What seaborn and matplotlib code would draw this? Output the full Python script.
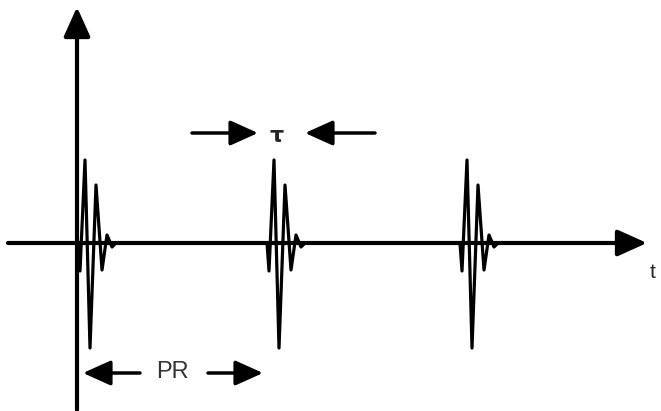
import numpy as np
import pandas as pd
import matplotlib
matplotlib.use("Agg")
import matplotlib.pyplot as plt
import seaborn as sns

# pulse shape (offset from pulse start, amplitude)
pulse_offset = [0, 2, 7, 12, 18, 24, 29, 34, 38]
pulse_amp = [0, -28, 83, -105, 58, -27, 8, -4, 0]
# start of each pulse along t
pulse_start = [1, 190, 383]
t_label = "t"
tau_label = "τ"
pr_label = "PR"

# build one long trace from the three pulses
rows = []
for k, s in enumerate(pulse_start):
    for o, a in zip(pulse_offset, pulse_amp):
        rows.append({"t": s + o, "amp": a, "pulse": k})
df = pd.DataFrame(rows)

sns.set_style("white")
fig = plt.figure(figsize=(6.61, 4.11), dpi=100)
ax = fig.add_axes([0, 0, 1, 1])
ax.set_xlim(-77, 584)
ax.set_ylim(-168, 243)
ax.axis("off")

sns.lineplot(data=df, x="t", y="amp", units="pulse", estimator=None,
             color="black", lw=2.3, ax=ax, legend=False, sort=False)

head = "-|>,head_length=1.0,head_width=0.45"
# axes
ax.annotate("", xy=(570, 0), xytext=(-69, 0),
            arrowprops=dict(arrowstyle=head, lw=3, color="black", mutation_scale=18,
                            shrinkA=0, shrinkB=0))
ax.annotate("", xy=(0, 236), xytext=(0, -167),
            arrowprops=dict(arrowstyle=head, lw=3, color="black", mutation_scale=18,
                            shrinkA=0, shrinkB=0))
ax.text(576, -29, t_label, fontsize=15, ha="center", va="center", family="Liberation Sans")

# tau marker
ax.annotate("", xy=(181, 110), xytext=(115, 110),
            arrowprops=dict(arrowstyle=head, lw=2.5, color="black", mutation_scale=17,
                            shrinkA=0, shrinkB=0))
ax.annotate("", xy=(228, 110), xytext=(298, 110),
            arrowprops=dict(arrowstyle=head, lw=2.5, color="black", mutation_scale=17,
                            shrinkA=0, shrinkB=0))
ax.text(200, 107, tau_label, fontsize=16, ha="center", va="center",
        family="DejaVu Sans", fontweight="bold")

# PR marker
ax.annotate("", xy=(6, -130), xytext=(63, -130),
            arrowprops=dict(arrowstyle=head, lw=2.5, color="black", mutation_scale=17,
                            shrinkA=0, shrinkB=0))
ax.annotate("", xy=(186, -130), xytext=(131, -130),
            arrowprops=dict(arrowstyle=head, lw=2.5, color="black", mutation_scale=17,
                            shrinkA=0, shrinkB=0))
ax.text(95, -129, pr_label, fontsize=17, ha="center", va="center",
        family="Liberation Sans", color="#333333")

fig.savefig("out.png", dpi=100)
